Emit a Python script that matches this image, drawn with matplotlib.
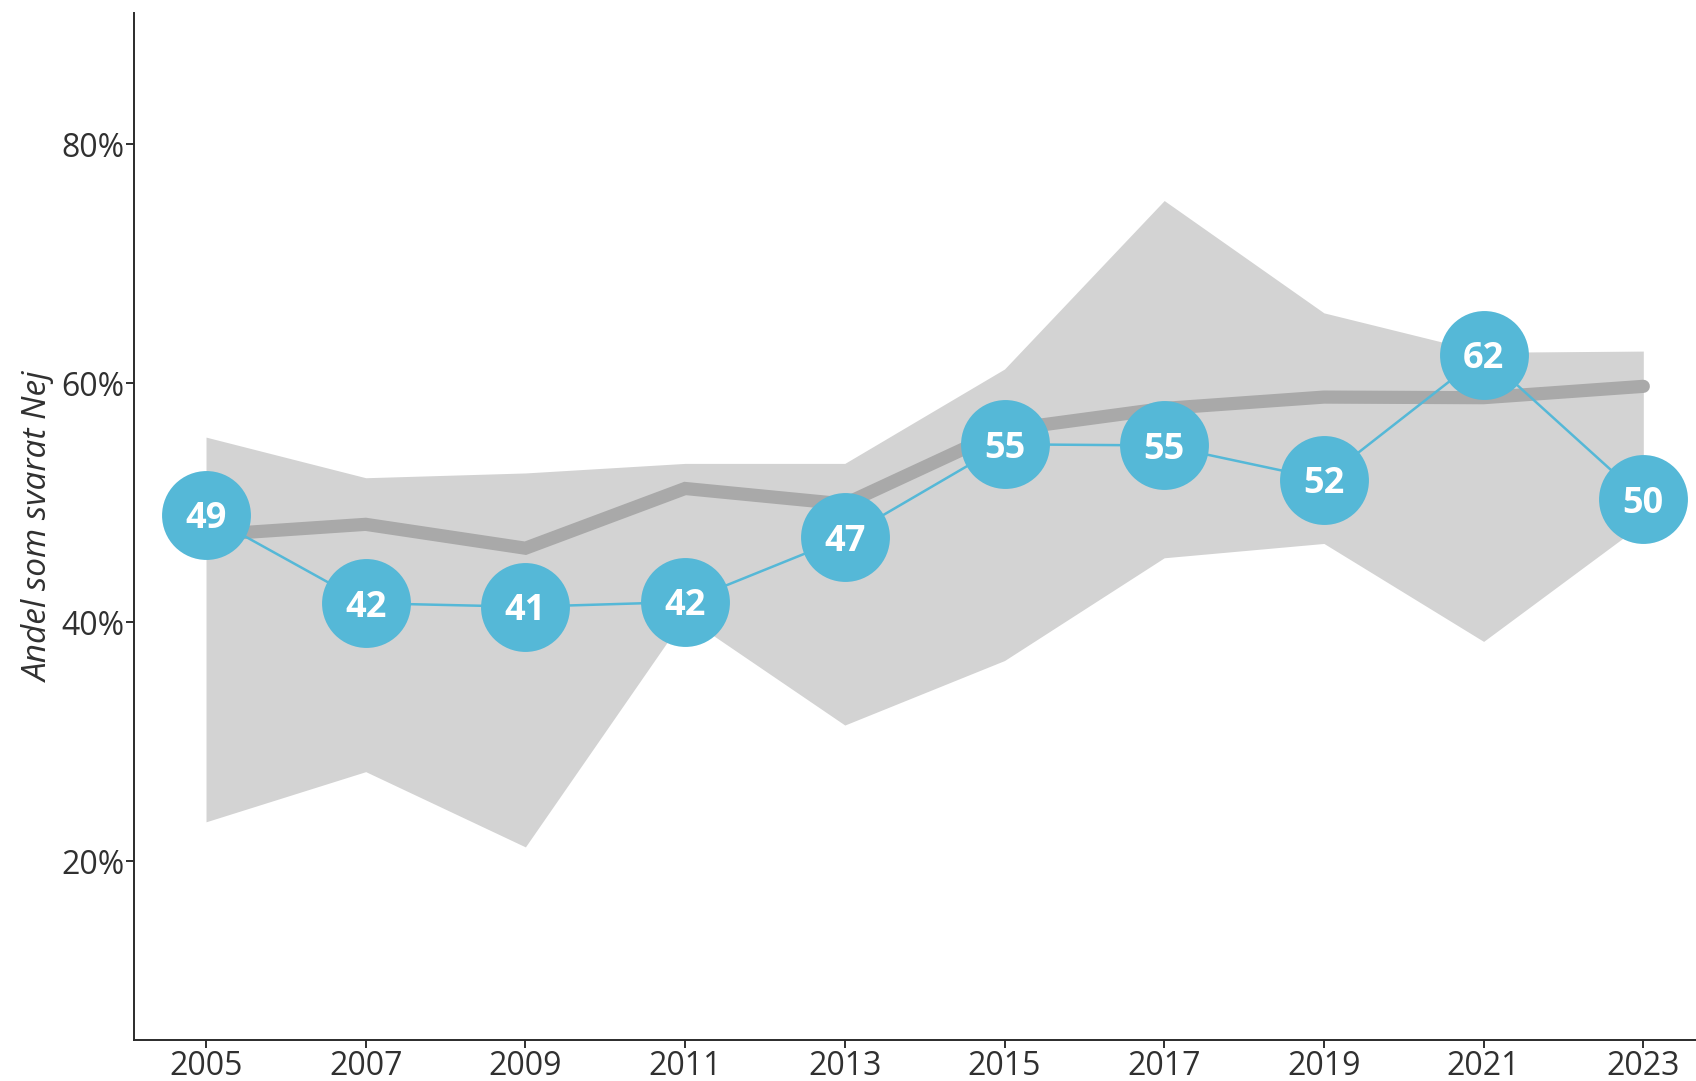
import matplotlib.pyplot as plt

# data (percent)
years = [2005, 2007, 2009, 2011, 2013, 2015, 2017, 2019, 2021, 2023]
nej = [49.0, 41.6, 41.3, 41.7, 47.1, 54.9, 54.8, 51.95, 62.4, 50.3]
ref_line = [47.3, 48.2, 46.2, 51.2, 49.9, 56.1, 57.9, 58.85, 58.8, 59.75]
band_low = [23.3, 27.5, 21.2, 40.5, 31.4, 36.8, 45.4, 46.6, 38.4, 48.3]
band_high = [55.5, 52.1, 52.5, 53.3, 53.3, 61.2, 75.3, 65.9, 62.6, 62.7]
yticks = [20, 40, 60, 80]

blue = "#55B8D7"
txt = "#303030"
plt.rcParams["font.family"] = ["Open Sans", "DejaVu Sans"]

fig = plt.figure(figsize=(16.96, 10.81), dpi=100)
ax = fig.add_axes([0.0791, 0.0375, 0.9209, 0.9505])

# shaded range
ax.fill_between(years, band_low, band_high, color="#D3D3D3", lw=0, zorder=1)
# thick grey comparison line
ax.plot(years, ref_line, color="#A9A9A9", lw=9.5, solid_capstyle="round",
        solid_joinstyle="miter", zorder=2)

ax.plot(years, nej, color=blue, lw=1.8, marker="o", markersize=64,
        markerfacecolor=blue, markeredgewidth=0, zorder=3)
for x, v in zip(years, nej):
    ax.text(x, v, f"{v:.0f}", color="white", fontsize=26, fontweight="bold",
            ha="center", va="center_baseline", zorder=4)

ax.set_xlim(2004.1, 2023.66)
ax.set_ylim(5, 91)
ax.set_xticks(years)
ax.set_yticks(yticks)
ax.set_yticklabels([f"{v}%" for v in yticks])
ax.tick_params(labelsize=23, colors=txt, length=6, width=1.4, pad=1)
ax.set_ylabel("Andel som svarat Nej", fontsize=24, style="italic", color=txt,
              labelpad=4)
for s in ["top", "right"]:
    ax.spines[s].set_visible(False)
for s in ["left", "bottom"]:
    ax.spines[s].set_linewidth(1.4)
    ax.spines[s].set_color("#2b2b2b")

fig.savefig("out.png", dpi=100)
